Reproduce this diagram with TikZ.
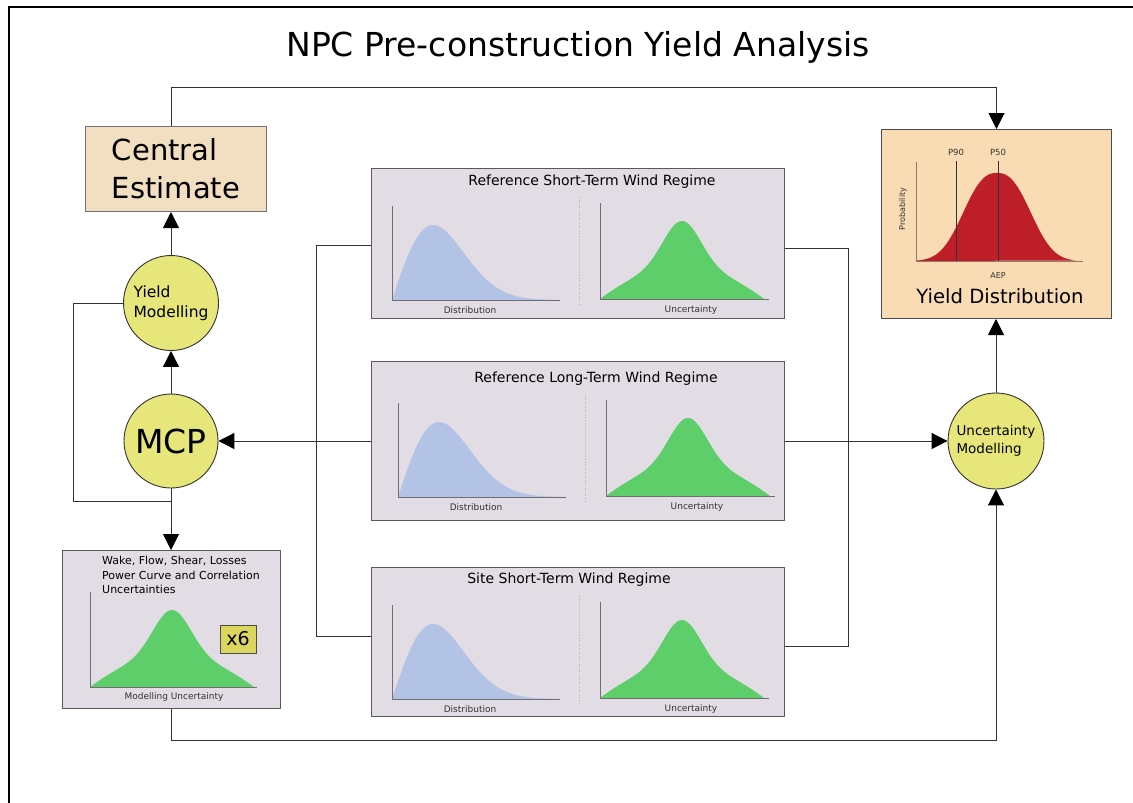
\documentclass[tikz,border=0pt]{standalone}
\usepackage{fontspec}
\setmainfont{DejaVu Sans}
\usetikzlibrary{arrows.meta,calc}
\definecolor{cetan}{RGB}{242,222,192}
\definecolor{ydpeach}{RGB}{250,220,180}
\definecolor{regfill}{RGB}{226,220,228}
\definecolor{distblue}{RGB}{179,195,229}
\definecolor{ungreen}{RGB}{94,206,106}
\definecolor{circyel}{RGB}{230,230,122}
\definecolor{ydred}{RGB}{190,30,40}
\definecolor{xsix}{RGB}{218,214,94}
\definecolor{axgrey}{RGB}{110,110,115}
\definecolor{ydaxgrey}{RGB}{140,123,107}
\newcommand\fs[2]{\fontsize{#1}{#2}\selectfont}
\newcommand\bluecurve[4]{%
  \fill[distblue] (#1,#2) -- plot[domain=0.01:1,samples=70,smooth] ({#1+#3*\x},{#2-#4*(\x/0.245)*exp((1-(\x/0.245)^2)/2)}) -- cycle;}
\newcommand\greencurve[4]{%
  \fill[ungreen] ({#1-#3},#2) -- plot[domain=-1:1,samples=81,smooth] ({#1+#3*\x},{#2-#4*(0.6*exp(-(\x*\x/0.1024))+0.4*(1-\x*\x))}) -- cycle;}
\newcommand\plotaxes[4]{%
  \draw[axgrey, line width=0.8pt] (#1,#2) -- (#1,#3) -- (#4,#3);}
\newcommand\regimeinner[1]{%
  \bluecurve{21}{132}{168}{75}
  \plotaxes{21}{38}{132}{189}
  \draw[gray!60, dotted, line width=0.6pt] (208,29) -- (208,137);
  \greencurve{311}{131}{82}{78}
  \plotaxes{229}{35}{131}{398}
  \node[small] (#1dist) at (99,142) {Distribution};
  \node[small] (#1unc) at (320,142) {Uncertainty};
}
\tikzset{
  conn/.style={draw=black!80, line width=1pt},
  arr/.style={conn, -{Triangle[length=16pt,width=16pt,color=black]}},
  ycirc/.style={circle, draw=black!80, line width=0.9pt, fill=circyel, inner sep=0pt, align=left},
  regbox/.style={draw=black!65, line width=1pt, fill=regfill, inner sep=0pt},
  cebox/.style={draw=black!55, line width=1pt, fill=cetan, inner sep=0pt, align=left},
  ydbox/.style={draw=black!70, line width=1pt, fill=ydpeach, inner sep=0pt},
  small/.style={font=\fs{9}{11}, text=black!80, inner sep=0pt},
  rtitle/.style={font=\fs{14}{17}, inner sep=0pt},
}
\begin{document}
\begin{tikzpicture}[x=1pt,y=-1pt]
\useasboundingbox (0,0) rectangle (1133,803);
% frame
\draw[line width=2pt] (9,803) -- (9,7) -- (1133,7);
% title
\node[font=\fs{33}{40}, inner sep=0pt] (title) at (578,47) {NPC Pre-construction Yield Analysis};

% main nodes
\node[cebox, minimum width=181pt, minimum height=85pt, anchor=north west, font=\fs{29}{38}] (ce) at (85,126) {Central\\Estimate};
\node[ycirc, minimum size=95pt, font=\fs{15.5}{20}] (ym) at (171,303) {Yield\\Modelling};
\node[ycirc, minimum size=94pt, font=\fs{33}{40}, align=center] (mcp) at (171,441) {MCP};
\node[ycirc, minimum size=96pt, font=\fs{13.5}{18}] (um) at (996,441) {Uncertainty\\Modelling};

% regime boxes
\node[regbox, minimum width=413pt, minimum height=150pt, anchor=north west] (rst) at (371,168) {};
\node[regbox, minimum width=413pt, minimum height=159pt, anchor=north west] (rlt) at (371,361) {};
\node[regbox, minimum width=413pt, minimum height=149pt, anchor=north west] (sst) at (371,567) {};
\begin{scope}[shift={(371,168)}]\regimeinner{rst}\end{scope}
\begin{scope}[shift={(377,365)}]\regimeinner{rlt}\end{scope}
\begin{scope}[shift={(371,567)}]\regimeinner{sst}\end{scope}
\node[rtitle] (rsttitle) at (592,182) {Reference Short-Term Wind Regime};
\node[rtitle] (rlttitle) at (596,379) {Reference Long-Term Wind Regime};
\node[rtitle] (ssttitle) at (569,580) {Site Short-Term Wind Regime};

% wake box
\node[regbox, minimum width=218pt, minimum height=158pt, anchor=north west] (wake) at (62,550) {};
\node[font=\fs{11}{14.5}, align=left, anchor=north west, inner sep=0pt] (waketext) at (102,556) {Wake, Flow, Shear, Losses\\Power Curve and Correlation\\Uncertainties};
\greencurve{172}{687}{82}{77}
\plotaxes{90}{592}{687}{257}
\node[draw=black!70, line width=0.8pt, fill=xsix, minimum width=36pt, minimum height=28pt, inner sep=0pt, font=\fs{19}{22}] (x6) at (238,639) {x6};
\node[small] (modunc) at (174,697) {Modelling Uncertainty};

% yield distribution box
\node[ydbox, minimum width=230pt, minimum height=189pt, anchor=north west] (yd) at (881,129) {};
\fill[ydred] (917,261) -- plot[domain=-1:1,samples=80,smooth] ({997+80*\x},{261-88*exp(-((\x*\x/0.27+0.0001)^1.25))}) -- cycle;
\draw[ydaxgrey, line width=0.9pt] (916,162) -- (916,261) -- (1083,261);
\draw[black!80, line width=0.9pt] (956,161) -- (956,261);
\draw[black!80, line width=0.9pt] (998,161) -- (998,261);
\node[small, font=\fs{8.5}{10}] (p90) at (956,152) {P90};
\node[small, font=\fs{8.5}{10}] (p50) at (998,152) {P50};
\node[small, font=\fs{8}{10}, rotate=90] (prob) at (903,209) {Probability};
\node[small, font=\fs{8}{10}] (aep) at (998,276) {AEP};
\node[font=\fs{19.6}{23}, inner sep=0pt] (ydlabel) at (1000,296) {Yield Distribution};

% connectors
\coordinate (topl) at (171,87);
\draw[arr] (ce.north -| mcp) -- (topl) -| (yd.north);
\draw[arr] (ym) -- (ym |- ce.south);
\draw[arr] (mcp) -- (ym);
\coordinate (loopc) at (73,501);
\draw[conn] (ym.west) -| (loopc) -- (loopc -| mcp);
\draw[arr] (mcp.south) -- (mcp |- wake.north);
\coordinate (botc) at (0,740);
\draw[arr] (wake.south) -- (wake.south |- botc) -| (um.south);
\coordinate (lbus) at (316,0);
\coordinate (rbus) at (848,0);
\draw[conn] ([yshift=-2pt]rst.west) -- ([yshift=-2pt]rst.west -| lbus) -- ([yshift=5.5pt]sst.west -| lbus) -- ([yshift=5.5pt]sst.west);
\draw[conn] ([yshift=-5pt]rst.east) -- ([yshift=-5pt]rst.east -| rbus) -- ([yshift=-4.5pt]sst.east -| rbus) -- ([yshift=-4.5pt]sst.east);
\draw[arr] (rlt.west) -- (rlt.west -| mcp.east);
\draw[arr] (rlt.east) -- (rlt.east -| um.west);
\draw[arr] (um.north) -- (um |- yd.south);
\end{tikzpicture}
\end{document}
